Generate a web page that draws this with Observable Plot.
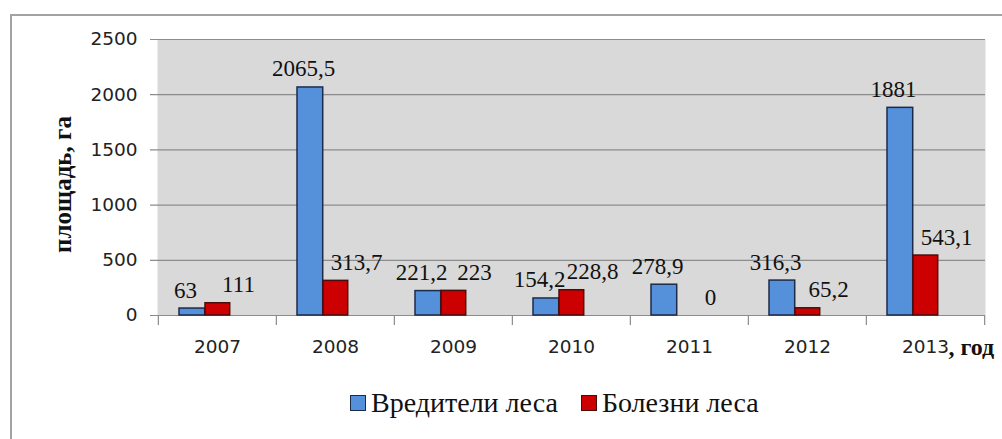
<!DOCTYPE html>
<html>
<head>
<meta charset="utf-8">
<script src="https://cdn.jsdelivr.net/npm/d3@7"></script>
<script src="https://cdn.jsdelivr.net/npm/@observablehq/plot@0.6"></script>
<style>
  html, body { margin: 0; padding: 0; background: #ffffff; }
  body { width: 1002px; height: 439px; overflow: hidden; position: relative; }
  #frame { position: absolute; left: 10px; top: 14px; width: 1100px; height: 600px;
           border-top: 2px solid #a3a3a3; border-left: 2px solid #a3a3a3; box-sizing: border-box; }
  #chart { position: absolute; left: 0; top: 0; }
  #legend { position: absolute; left: 350px; top: 387px; display: flex; align-items: center;
            font-family: "Liberation Serif", "Times New Roman", serif; font-size: 28px; color: #111; white-space: nowrap; }
  #legend .item { display: flex; align-items: center; margin-right: 23px; }
  #legend .sw { display: inline-block; width: 16px; height: 16px; margin-right: 5px; box-sizing: border-box; }
</style>
</head>
<body>
<div id="frame"></div>
<div id="chart"></div>
<div id="legend"></div>
<script>
// ---- data ----
const years = ["2007", "2008", "2009", "2010", "2011", "2012", "2013"];
const pests = [63, 2065.5, 221.2, 154.2, 278.9, 316.3, 1881];      // Вредители леса
const diseases = [111, 313.7, 223, 228.8, 0, 65.2, 543.1];         // Болезни леса
const seriesNames = ["Вредители леса", "Болезни леса"];
const yTicks = [0, 500, 1000, 1500, 2000, 2500];
const yTitle = "площадь, га";
const xUnit = ", год";

// ---- styles ----
const W = 1002, H = 370;
const mL = 157, mR = 17, mT = 39, mB = 55;
const bw = (W - mL - mR) / years.length;
const blue = "#5590db", blueStroke = "#1c2b4a";
const red = "#cc0000", redStroke = "#4a0d0d";
const gridColor = "#8c8c8c";
const serif = "Liberation Serif, Times New Roman, serif";
const fmt = v => String(v).replace(".", ",");

const rows = years.map((y, i) => ({year: y, pests: pests[i], diseases: diseases[i]}));

const chart = Plot.plot({
  width: W, height: H,
  marginLeft: mL, marginRight: mR, marginTop: mT, marginBottom: mB,
  style: {fontFamily: "DejaVu Sans", fontSize: "18.5px", color: "#222", background: "transparent"},
  x: {type: "band", domain: years, padding: 0, axis: null},
  y: {domain: [0, 2500], axis: null},
  marks: [
    Plot.frame({fill: "#d9d9d9", stroke: null}),
    Plot.ruleY(yTicks, {y: d => d, stroke: gridColor, strokeWidth: 1.2, insetLeft: -7}),
    // category boundary ticks
    Plot.ruleX(years, {x: d => d, y1: 0, y2: 0, dx: -bw / 2, insetBottom: -10, stroke: gridColor, strokeWidth: 1.2}),
    Plot.ruleX([years[years.length - 1]], {x: d => d, y1: 0, y2: 0, dx: bw / 2, insetBottom: -10, stroke: gridColor, strokeWidth: 1.2}),
    Plot.axisY({ticks: yTicks, tickSize: 0, tickPadding: 20, tickFormat: d => String(d), label: null, fill: "#222"}),
    Plot.axisX({tickSize: 0, tickPadding: 24, label: null, fill: "#222"}),
    Plot.barY(rows.filter(d => d.pests > 0), {x: "year", y: "pests", fill: blue, stroke: blueStroke, strokeWidth: 1.5,
      insetLeft: 21, insetRight: bw - 47}),
    Plot.barY(rows.filter(d => d.diseases > 0), {x: "year", y: "diseases", fill: red, stroke: redStroke, strokeWidth: 1.5,
      insetLeft: 47, insetRight: bw - 72}),
    Plot.text(rows, {x: "year", y: "pests", text: d => fmt(d.pests), dx: -32, dy: -11, lineAnchor: "bottom",
      fontFamily: serif, fontSize: 23, fill: "#111"}),
    Plot.text(rows, {x: "year", y: "diseases", text: d => fmt(d.diseases), dx: 21, dy: -11, lineAnchor: "bottom",
      fontFamily: serif, fontSize: 23, fill: "#111"}),
    Plot.text([yTitle], {frameAnchor: "left", text: d => d, rotate: -90, dx: -95, dy: 7,
      textAnchor: "middle", lineAnchor: "middle",
      fontFamily: serif, fontWeight: "bold", fontSize: 25, fill: "#111"}),
    Plot.text([years[years.length - 1]], {x: d => d, frameAnchor: "bottom", text: () => xUnit, dx: 23, dy: 32,
      textAnchor: "start", lineAnchor: "middle", fontFamily: serif, fontWeight: "bold", fontSize: 24, fill: "#111"})
  ]
});
document.getElementById("chart").appendChild(chart);

// ---- legend ----
const legend = document.getElementById("legend");
[[seriesNames[0], blue, blueStroke], [seriesNames[1], red, redStroke]].forEach(([name, c, s]) => {
  const item = document.createElement("span");
  item.className = "item";
  const sw = document.createElement("span");
  sw.className = "sw";
  sw.style.background = c;
  sw.style.border = "1px solid " + s;
  item.appendChild(sw);
  item.appendChild(document.createTextNode(name));
  legend.appendChild(item);
});
</script>
</body>
</html>
